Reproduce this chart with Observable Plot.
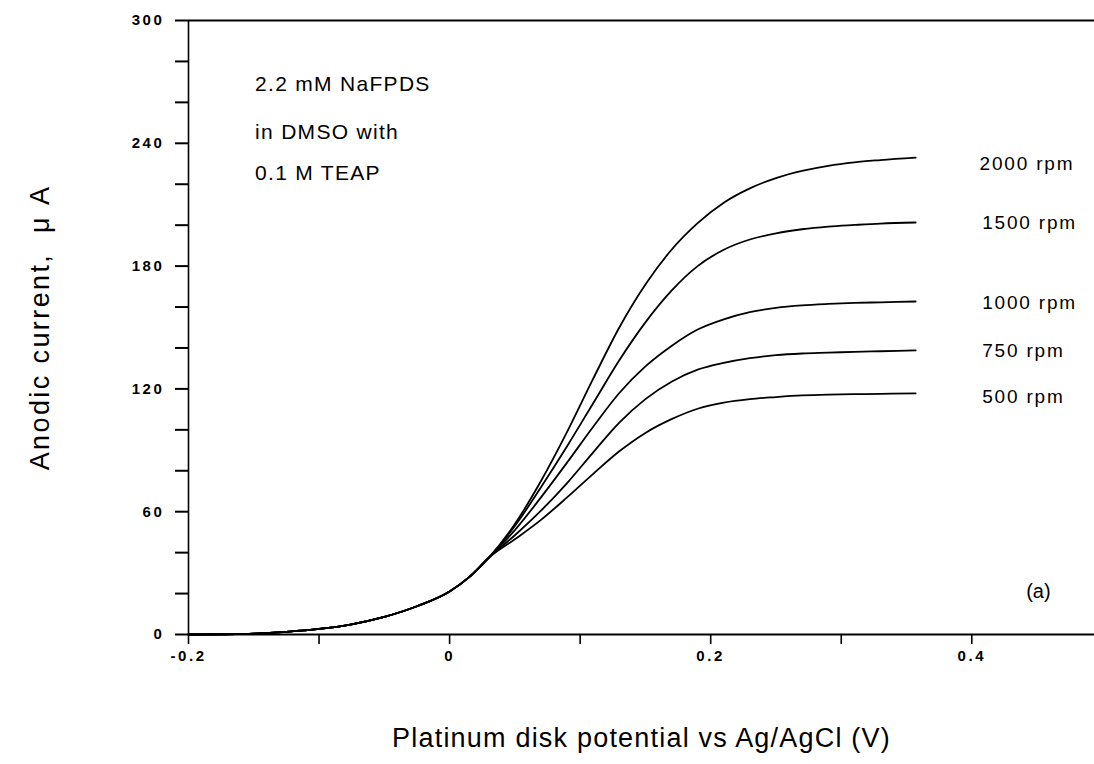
<!DOCTYPE html>
<html>
<head>
<meta charset="utf-8">
<script src="https://cdn.jsdelivr.net/npm/d3@7"></script>
<script src="https://cdn.jsdelivr.net/npm/@observablehq/plot@0.6"></script>
<style>
  body { margin: 0; background: #fff; }
</style>
</head>
<body>
<div id="chart"></div>
<script>
// Potential grid (V vs Ag/AgCl)
const potential = [-0.2, -0.175, -0.15, -0.125, -0.1, -0.075, -0.05, -0.025, 0, 0.015, 0.03,
  0.05, 0.07, 0.09, 0.11, 0.13, 0.15, 0.17, 0.19, 0.21, 0.23, 0.25, 0.27, 0.29, 0.31, 0.33, 0.357];

// Anodic current (µA)
const current500  = [0, 0.1, 0.4, 1.3, 2.7, 5, 8.6, 13.8, 21, 28, 37.5,
  46.5, 56, 67, 78.5, 89.5, 98.5, 105.2, 110.3, 113.3, 115, 116, 116.8, 117.2, 117.4, 117.6, 117.8];
const current750  = [0, 0.1, 0.4, 1.3, 2.7, 5, 8.6, 13.8, 21, 28, 37.5,
  48.5, 60.5, 74, 89, 103.5, 115, 123.5, 129.4, 132.7, 135, 136.5, 137.3, 137.7, 138.1, 138.4, 138.8];
const current1000 = [0, 0.1, 0.4, 1.3, 2.7, 5, 8.6, 13.8, 21, 28, 37.5,
  51, 67, 84, 101.5, 118, 131, 141, 149, 154, 157.5, 159.6, 160.8, 161.5, 162, 162.3, 162.7];
const current1500 = [0, 0.1, 0.4, 1.3, 2.7, 5, 8.6, 13.8, 21, 28, 37.5,
  53, 72, 92, 113, 134, 152.5, 168, 180, 188, 193, 196, 198, 199.3, 200.1, 200.8, 201.3];
const current2000 = [0, 0.1, 0.4, 1.3, 2.7, 5, 8.6, 13.8, 21, 28, 37.5,
  54, 75, 99, 125, 150, 171, 188, 201, 211, 218, 223, 226.5, 229, 230.7, 231.8, 233];

const seriesNames = ["500 rpm", "750 rpm", "1000 rpm", "1500 rpm", "2000 rpm"];
const seriesValues = [current500, current750, current1000, current1500, current2000];

// Curve labels
const labelPotential = [0.408, 0.408, 0.408, 0.408, 0.406];
const labelCurrent = [116, 138.8, 162.2, 201.3, 230];

// Annotation
const noteLines = ["2.2 mM NaFPDS", "in DMSO with", "0.1 M TEAP"];
const notePotential = [-0.149, -0.149, -0.149];
const noteCurrent = [268.7, 245.3, 225.3];
const panelTag = ["(a)"];
const panelPotential = [0.451];
const panelCurrent = [21];

// Ticks
const xMajor = [-0.2, 0, 0.2, 0.4];
const xMinor = [-0.1, 0.1, 0.3];
const yMajor = [0, 60, 120, 180, 240, 300];
const yMinor = [20, 40, 80, 100, 140, 160, 200, 220, 260, 280];

const xTitle = "Platinum disk potential vs Ag/AgCl (V)";
const yTitle = "Anodic current,  \u03BC A";

const rows = seriesNames.flatMap((name, s) =>
  potential.map((p, i) => ({series: name, potential: p, current: seriesValues[s][i]})));
const labels = seriesNames.map((name, i) => ({name, potential: labelPotential[i], current: labelCurrent[i]}));
const notes = noteLines.map((t, i) => ({t, potential: notePotential[i], current: noteCurrent[i]}));
const tags = panelTag.map((t, i) => ({t, potential: panelPotential[i], current: panelCurrent[i]}));

const font = "'Liberation Sans', Arial, Helvetica, sans-serif";
const fmt = d => d === 0 ? "0" : d.toFixed(1);

const chart = Plot.plot({
  width: 1094,
  height: 764,
  marginLeft: 188,
  marginRight: 0,
  marginTop: 20,
  marginBottom: 130,
  x: {domain: [-0.2, 0.494]},
  y: {domain: [0, 300]},
  style: {fontFamily: font, background: "white", color: "black", overflow: "visible"},
  marks: [
    Plot.ruleY([0, 300], {stroke: "black", strokeWidth: 2}),
    Plot.ruleX([-0.2], {stroke: "black", strokeWidth: 1.6}),
    Plot.axisY({ticks: yMinor, tickSize: 13, tickFormat: () => "", strokeWidth: 2, label: null}),
    Plot.axisY({ticks: yMajor, tickSize: 13, tickPadding: 11, tickFormat: d => String(d),
      fontSize: 15, fontWeight: "bold", strokeWidth: 2, label: null}),
    Plot.axisX({ticks: xMinor, tickSize: 10, tickFormat: () => "", strokeWidth: 1.6, label: null}),
    Plot.axisX({ticks: xMajor, tickSize: 10, tickPadding: 6, tickFormat: fmt,
      fontSize: 15, fontWeight: "bold", strokeWidth: 1.6, label: null}),
    Plot.line(rows, {x: "potential", y: "current", z: "series", stroke: "black",
      strokeWidth: 1.8, curve: "monotone-x"}),
    Plot.text(labels, {x: "potential", y: "current", text: "name", textAnchor: "start",
      fontSize: 19}),
    Plot.text(notes, {x: "potential", y: "current", text: "t", textAnchor: "start",
      fontSize: 21}),
    Plot.text(tags, {x: "potential", y: "current", text: "t", textAnchor: "middle",
      fontSize: 20}),
    Plot.text([xTitle], {frameAnchor: "bottom", textAnchor: "middle", dy: 112, fontSize: 27}),
    Plot.text([yTitle], {frameAnchor: "left", textAnchor: "middle", dx: -148, rotate: -90, fontSize: 27})
  ]
});

document.getElementById("chart").appendChild(chart);

// Letter spacing / sizing to match the wide lettering of the scanned figure
const tickTexts = new Set([...yMajor.map(String), ...xMajor.map(fmt)]);
d3.select(chart).selectAll("text").each(function () {
  const t = this.textContent;
  const s = d3.select(this);
  if (tickTexts.has(t)) {
    s.attr("font-size", 15).style("font-size", "15px", "important")
     .style("font-weight", "bold").attr("letter-spacing", "2.6px");
  } else if (seriesNames.includes(t)) {
    s.attr("letter-spacing", "1.8px");
  } else if (noteLines.includes(t)) {
    s.attr("letter-spacing", "1.3px");
  } else if (t === xTitle) {
    s.attr("letter-spacing", "1.2px");
  } else if (t === yTitle) {
    s.attr("letter-spacing", "2.4px");
  }
});
</script>
</body>
</html>
